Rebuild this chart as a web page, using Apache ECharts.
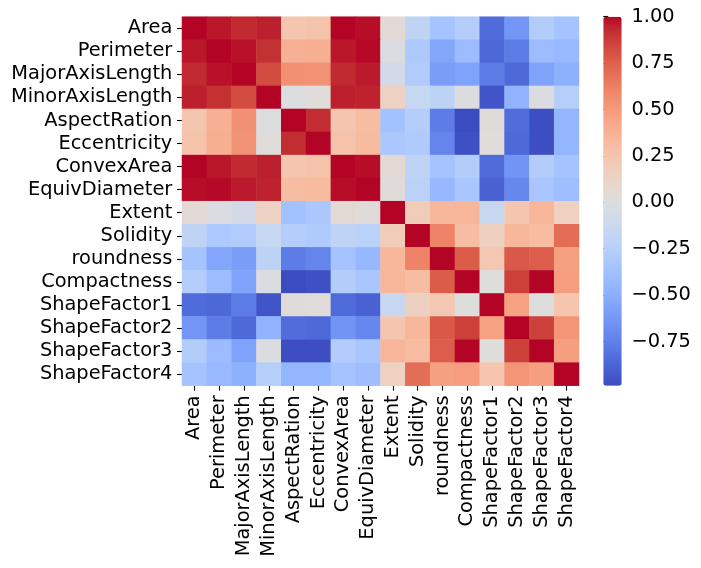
<!DOCTYPE html>
<html>
<head>
<meta charset="utf-8">
<script src="https://cdn.jsdelivr.net/npm/echarts@6/dist/echarts.min.js"></script>
<style>
  html, body { margin: 0; padding: 0; background: #fff; }
  #chart { width: 701px; height: 568px; }
</style>
</head>
<body>
<div id="chart"></div>
<script>
// 特征名
var features = ['Area', 'Perimeter', 'MajorAxisLength', 'MinorAxisLength', 'AspectRation',
    'Eccentricity', 'ConvexArea', 'EquivDiameter', 'Extent', 'Solidity', 'roundness',
    'Compactness', 'ShapeFactor1', 'ShapeFactor2', 'ShapeFactor3', 'ShapeFactor4'];

// 相关系数（上三角，每行从对角线之后开始）
var upperArea        = [0.967, 0.932, 0.952, 0.242, 0.267, 1.000, 0.985, 0.054, -0.197, -0.358, -0.268, -0.848, -0.639, -0.272, -0.356];
var upperPerimeter   = [0.977, 0.913, 0.385, 0.392, 0.968, 0.991, -0.021, -0.304, -0.548, -0.407, -0.865, -0.768, -0.409, -0.429];
var upperMajor       = [0.826, 0.550, 0.541, 0.933, 0.962, -0.078, -0.284, -0.596, -0.568, -0.774, -0.859, -0.568, -0.483];
var upperMinor       = [-0.009, 0.020, 0.952, 0.949, 0.146, -0.156, -0.210, -0.015, -0.947, -0.471, -0.018, -0.264];
var upperAspect      = [0.924, 0.243, 0.304, -0.370, -0.268, -0.767, -0.988, 0.025, -0.838, -0.979, -0.450];
var upperEcc         = [0.269, 0.319, -0.319, -0.298, -0.722, -0.970, 0.020, -0.860, -0.981, -0.449];
var upperConvex      = [0.985, 0.052, -0.206, -0.362, -0.272, -0.849, -0.641, -0.276, -0.362];
var upperEquiv       = [0.028, -0.232, -0.436, -0.328, -0.893, -0.713, -0.330, -0.393];
var upperExtent      = [0.191, 0.344, 0.354, -0.142, 0.238, 0.348, 0.149];
var upperSolidity    = [0.608, 0.304, 0.153, 0.344, 0.308, 0.702];
var upperRoundness   = [0.768, 0.230, 0.783, 0.763, 0.472];
var upperCompactness = [0.009, 0.868, 0.999, 0.485];
var upperSF1         = [0.469, 0.009, 0.248];
var upperSF2         = [0.867, 0.529];
var upperSF3         = [0.476];
var upperSF4         = [];

// 色标刻度
var colorbarTicks = [-0.75, -0.5, -0.25, 0, 0.25, 0.5, 0.75, 1];

// coolwarm 色带
var coolwarm = ['#3b4cc0', '#445acc', '#4d68d7', '#5775e1', '#6282ea', '#6c8ef1', '#779af7', '#82a5fb',
    '#8db0fe', '#98b9ff', '#a3c2ff', '#aec9fd', '#b8d0f9', '#c2d5f4', '#ccd9ee', '#d5dbe6',
    '#dddddd', '#e5d8d1', '#ecd3c5', '#f1ccb9', '#f5c4ad', '#f7bba0', '#f7b194', '#f7a687',
    '#f49a7b', '#f18d6f', '#ec7f63', '#e57058', '#de604d', '#d55042', '#cb3e38', '#c0282f', '#b40426'];

var uppers = [upperArea, upperPerimeter, upperMajor, upperMinor, upperAspect, upperEcc, upperConvex,
    upperEquiv, upperExtent, upperSolidity, upperRoundness, upperCompactness, upperSF1, upperSF2,
    upperSF3, upperSF4];

// 组装对称矩阵
var n = features.length;
var matrix = [];
for (var i = 0; i < n; i++) { matrix.push([]); }
for (var i = 0; i < n; i++) {
    matrix[i][i] = 1;
    for (var k = 0; k < uppers[i].length; k++) {
        var j = i + 1 + k;
        matrix[i][j] = uppers[i][k];
        matrix[j][i] = uppers[i][k];
    }
}
var heatData = [];
var vmin = 1;
for (var i = 0; i < n; i++) {
    for (var j = 0; j < n; j++) {
        heatData.push([j, i, matrix[i][j]]);
        if (matrix[i][j] < vmin) vmin = matrix[i][j];
    }
}

var fontFamily = 'DejaVu Sans';
var fontSize = 19.4;
var tickLen = 4.9;

var myChart = echarts.init(document.getElementById('chart'), null, {renderer: 'canvas'});
myChart.setOption({
    animation: false,
    textStyle: { fontFamily: fontFamily },
    grid: [
        { left: 182, top: 16.7, width: 397, height: 369 },
        { left: 603.3, top: 16.7, width: 18.4, height: 369 }
    ],
    xAxis: [
        {
            type: 'category', gridIndex: 0, data: features, position: 'bottom',
            axisLine: { show: false },
            axisTick: { show: true, alignWithLabel: true, length: tickLen, lineStyle: { color: '#000', width: 1.1 } },
            axisLabel: { rotate: 90, interval: 0, margin: 9.7, fontSize: fontSize, color: '#000', fontFamily: fontFamily },
            splitLine: { show: false }
        },
        { type: 'value', gridIndex: 1, show: false, min: 0, max: 1 }
    ],
    yAxis: [
        {
            type: 'category', gridIndex: 0, data: features, inverse: true,
            axisLine: { show: false },
            axisTick: { show: true, alignWithLabel: true, length: tickLen, lineStyle: { color: '#000', width: 1.1 } },
            axisLabel: { interval: 0, margin: 9.7, fontSize: fontSize, color: '#000', fontFamily: fontFamily },
            splitLine: { show: false }
        },
        {
            type: 'value', gridIndex: 1, position: 'right', min: vmin, max: 1,
            axisLine: { show: false },
            axisTick: { show: true, length: tickLen, customValues: colorbarTicks, lineStyle: { color: '#000', width: 1.1 } },
            axisLabel: {
                customValues: colorbarTicks, margin: 9.7, fontSize: fontSize, color: '#000', fontFamily: fontFamily,
                formatter: function (v) { return v.toFixed(2).replace('-', '\u2212'); }
            },
            splitLine: { show: false }
        }
    ],
    visualMap: {
        type: 'continuous', seriesIndex: 0, min: vmin, max: 1,
        calculable: false, hoverLink: false, orient: 'vertical',
        left: 603.3, top: 16.7, itemWidth: 18.4, itemHeight: 369, padding: 0,
        text: null, showLabel: false,
        inRange: { color: coolwarm }
    },
    series: [{
        type: 'heatmap', xAxisIndex: 0, yAxisIndex: 0,
        data: heatData,
        itemStyle: { borderWidth: 0 },
        emphasis: { disabled: true }
    }]
});
</script>
</body>
</html>
